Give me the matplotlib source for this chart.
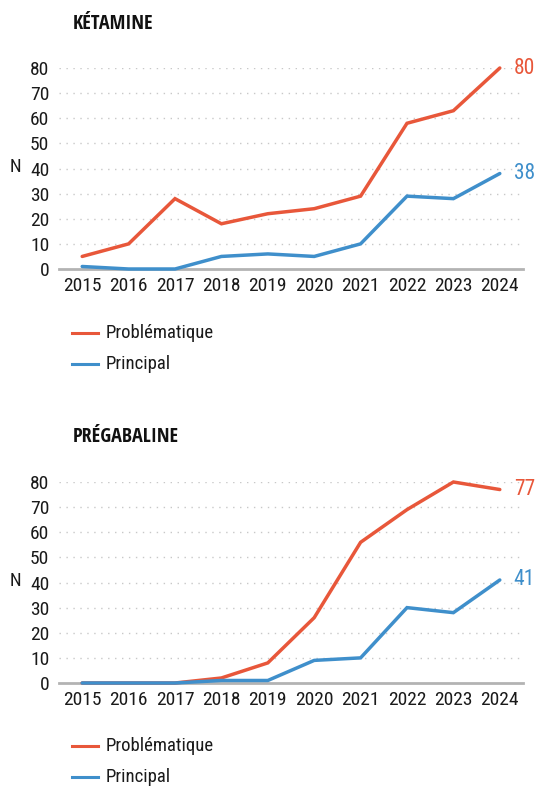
import matplotlib
matplotlib.use("Agg")
import matplotlib.pyplot as plt
from matplotlib import font_manager

years = [2015, 2016, 2017, 2018, 2019, 2020, 2021, 2022, 2023, 2024]
ket_prob = [5, 10, 28, 18, 22, 24, 29, 58, 63, 80]
ket_princ = [1, 0, 0, 5, 6, 5, 10, 29, 28, 38]
preg_prob = [0, 0, 0, 2, 8, 26, 56, 69, 80, 77]
preg_princ = [0, 0, 0, 1, 1, 9, 10, 30, 28, 41]
yticks = [0, 10, 20, 30, 40, 50, 60, 70, 80]
titles = ["KÉTAMINE", "PRÉGABALINE"]
series_names = ["Problématique", "Principal"]

RED = "#E8573A"
BLUE = "#3F8FCB"

names = {f.name for f in font_manager.fontManager.ttflist}

def pick(cands):
    for c in cands:
        if c in names:
            return c
    return "DejaVu Sans"

body = pick(["Roboto Condensed", "Fira Sans Condensed", "PT Sans Narrow", "DejaVu Sans"])
head = pick(["Open Sans Condensed", "Roboto Condensed", "Fira Sans Condensed", "DejaVu Sans"])
plt.rcParams['font.family'] = [body, 'DejaVu Sans']

W, H = 538, 787
fig = plt.figure(figsize=(W / 100, H / 100), dpi=100)

def fx(px):
    return px / W

def fy(py):
    return 1 - py / H

TXT = "#1a1a1a"
panels = [
    (titles[0], ket_prob, ket_princ, 68, 269, 24, 333),
    (titles[1], preg_prob, preg_princ, 482, 683, 437, 746),
]

for title, prob, princ, ytop, ybot, ytitle, yleg in panels:
    ax = fig.add_axes([fx(59), fy(ybot), fx(523) - fx(59), fy(ytop) - fy(ybot)])
    ax.set_xlim(2014.5, 2024.5)
    ax.set_ylim(0, 80)
    for y in yticks[1:]:
        ax.axhline(y, color="#c8c8c8", linestyle=(0, (1, 4)), linewidth=1.0, zorder=0)
    ax.axhline(0, color="#b3b3b3", linewidth=2.0, zorder=1, clip_on=False)
    ax.plot(years, prob, color=RED, linewidth=2.5, solid_capstyle="round",
            solid_joinstyle="miter", clip_on=False, zorder=3)
    ax.plot(years, princ, color=BLUE, linewidth=2.5, solid_capstyle="round",
            solid_joinstyle="miter", clip_on=False, zorder=3)
    for s in ax.spines.values():
        s.set_visible(False)
    ax.set_yticks(yticks)
    ax.set_yticklabels([str(v) for v in yticks], fontsize=14, color=TXT)
    ax.set_xticks(years)
    ax.set_xticklabels([str(v) for v in years], fontsize=14, color=TXT)
    ax.tick_params(length=0, pad=6)
    ax.tick_params(axis="y", pad=7)
    ax.annotate(str(prob[-1]), (years[-1], prob[-1]), xytext=(10, 0),
                textcoords="offset points", color=RED, fontsize=15.5, va="center", ha="left")
    ax.annotate(str(princ[-1]), (years[-1], princ[-1]), xytext=(10, 0),
                textcoords="offset points", color=BLUE, fontsize=15.5, va="center", ha="left")
    fig.text(fx(15), fy((ytop + ybot) / 2 - 1), "N", fontsize=13.5, color=TXT,
             va="center", ha="center")
    fig.text(fx(73), fy(ytitle), title, fontsize=14.5, fontweight="bold",
             family=[head, 'DejaVu Sans'], color="#111111", va="center", ha="left")
    for i, (nm, col) in enumerate(zip(series_names, [RED, BLUE])):
        yy = fy(yleg + i * 31)
        fig.add_artist(plt.Line2D([fx(72), fx(98)], [yy, yy], color=col, linewidth=2.2))
        fig.text(fx(106), yy, nm, fontsize=13.5, color=TXT, va="center", ha="left")

fig.savefig("out.png", dpi=100)
